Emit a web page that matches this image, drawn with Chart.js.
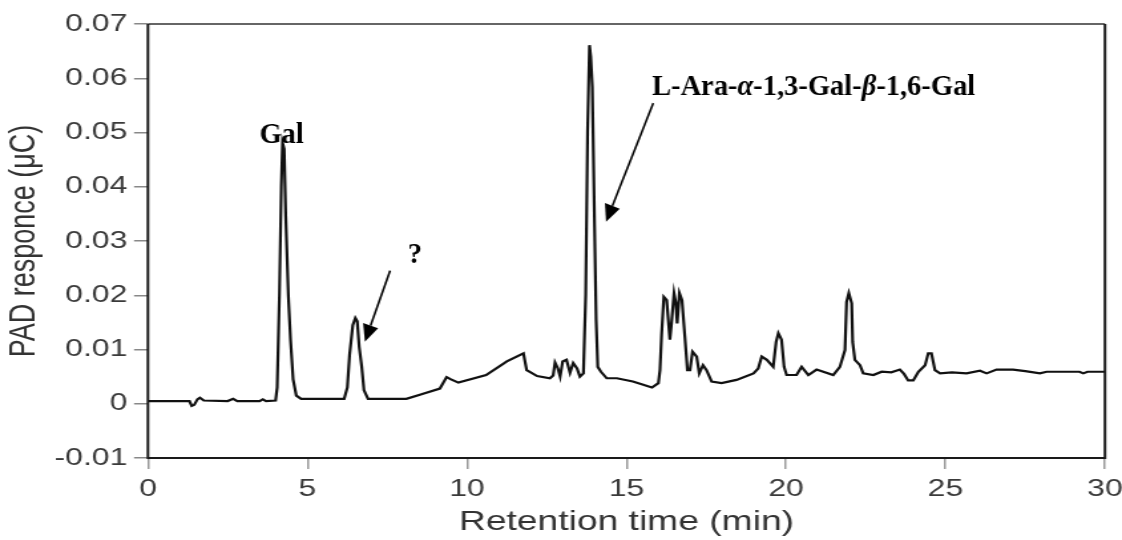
<!DOCTYPE html>
<html>
<head>
<meta charset="utf-8">
<script src="https://cdn.jsdelivr.net/npm/chart.js@4/dist/chart.umd.min.js"></script>
<style>
  body { margin: 0; background: #fff; }
</style>
</head>
<body>
<!-- the original figure is stretched sideways, so the canvas is drawn narrower and widened by css -->
<canvas id="padChart" width="844" height="540" style="display:block;width:1122px;height:540px"></canvas>
<script>
const retentionTime = [
  0, 1.30, 1.37, 1.45, 1.55, 1.63, 1.75, 2.5, 2.67, 2.8, 3.5, 3.6, 3.7, 4.0,
  4.05, 4.12, 4.18, 4.22, 4.27, 4.32, 4.40, 4.47, 4.55, 4.65, 4.8,
  6.15, 6.25, 6.32, 6.42, 6.5, 6.56, 6.62, 6.7, 6.77, 6.9,
  8.1, 8.6, 9.15, 9.36, 9.5, 9.73, 10.6, 11.25, 11.77, 11.87, 12.2, 12.6,
  12.7, 12.76, 12.85, 12.92, 13.0, 13.12, 13.23, 13.33, 13.45, 13.54, 13.65,
  13.72, 13.78, 13.84, 13.88, 13.93, 14.0, 14.05, 14.1, 14.2, 14.38, 14.7,
  15.2, 15.8, 16.0, 16.05, 16.1, 16.17, 16.26, 16.36, 16.42, 16.49, 16.55,
  16.59, 16.66, 16.74, 16.83, 16.91, 16.99, 17.07, 17.2, 17.28, 17.4, 17.51,
  17.67, 17.98, 18.45, 18.98, 19.13, 19.24, 19.4, 19.6, 19.69, 19.76, 19.86,
  19.94, 20.02, 20.33, 20.49, 20.7, 20.96, 21.48, 21.69, 21.85, 21.9, 21.97,
  22.06, 22.09, 22.16, 22.32, 22.42, 22.74, 23.0, 23.3, 23.57, 23.7, 23.83,
  23.99, 24.15, 24.36, 24.46, 24.56, 24.67, 24.83, 25.2, 25.66, 26.08, 26.29,
  26.6, 27.12, 27.5, 27.96, 28.17, 29.2, 29.32, 29.45, 30
];
const padResponse = [
  0.0005, 0.0005, -0.0004, -0.0002, 0.0008, 0.0011, 0.0006, 0.0005, 0.0009, 0.0005, 0.0005, 0.0008, 0.0005, 0.0006,
  0.003, 0.02, 0.04, 0.0481, 0.047, 0.0345, 0.02, 0.0117, 0.0045, 0.0015, 0.0009,
  0.0009, 0.003, 0.009, 0.0145, 0.0158, 0.0152, 0.0105, 0.0068, 0.0025, 0.0009,
  0.0009, 0.0018, 0.0028, 0.0049, 0.0045, 0.0039, 0.0053, 0.0078, 0.0093, 0.0062, 0.0051, 0.0047,
  0.0052, 0.0076, 0.0065, 0.005, 0.0078, 0.0081, 0.0057, 0.0075, 0.0065, 0.005, 0.0056,
  0.02, 0.05, 0.0661, 0.064, 0.0584, 0.0326, 0.0154, 0.0068, 0.0059, 0.0047, 0.0047,
  0.0041, 0.003, 0.0038, 0.0062, 0.0127, 0.0197, 0.0191, 0.0118, 0.0154, 0.0204, 0.0185,
  0.0148, 0.0204, 0.0191, 0.0124, 0.0062, 0.0062, 0.0096, 0.0087, 0.0056, 0.0071, 0.0062,
  0.0041, 0.0038, 0.0044, 0.0056, 0.0065, 0.0087, 0.0081, 0.0068, 0.0114, 0.013, 0.0118,
  0.0068, 0.0053, 0.0053, 0.0068, 0.0053, 0.0063, 0.0053, 0.0068, 0.0099, 0.0188, 0.0204,
  0.0185, 0.0114, 0.0081, 0.0071, 0.0056, 0.0053, 0.0059, 0.0058, 0.0063, 0.0055, 0.0043,
  0.0043, 0.0059, 0.0071, 0.0093, 0.0093, 0.0062, 0.0056, 0.0058, 0.0056, 0.0061, 0.0056,
  0.0063, 0.0063, 0.006, 0.0056, 0.0059, 0.0059, 0.0056, 0.0059, 0.0059
];

// peak names, placed in data units
const peakNames = [
  { parts: [["Gal", false]], x: 4.19, y: 0.0481, align: "center" },
  { parts: [["?", false]], x: 8.37, y: 0.0259, align: "center" },
  { parts: [["L-Ara-", false], ["\u03b1", true], ["-1,3-Gal-", false], ["\u03b2", true], ["-1,6-Gal", false]],
    x: 15.8, y: 0.0569, align: "left" }
];
const arrowFrom = [[7.59, 0.02453], [15.84, 0.0554]];
const arrowTo = [[6.80, 0.01144], [14.36, 0.03356]];

const STRETCH = 1122 / 844;

const annotations = {
    id: "annotations",
    afterDraw(chart) {
        const ctx = chart.ctx;
        const xs = chart.scales.x, ys = chart.scales.y;
        const a = chart.chartArea;

        // frame
        ctx.save();
        ctx.lineWidth = 2;
        ctx.strokeStyle = "#666";
        ctx.beginPath();
        ctx.moveTo(a.left, a.top);
        ctx.lineTo(a.right, a.top);
        ctx.stroke();
        ctx.strokeStyle = "#1a1a1a";
        ctx.beginPath();
        ctx.moveTo(a.right, a.top);
        ctx.lineTo(a.right, a.bottom);
        ctx.lineTo(a.left, a.bottom);
        ctx.lineTo(a.left, a.top);
        ctx.stroke();
        ctx.restore();

        // labels and arrows are not stretched in the original
        ctx.save();
        ctx.scale(1 / STRETCH, 1);
        const px = v => xs.getPixelForValue(v) * STRETCH;
        const py = v => ys.getPixelForValue(v);

        ctx.fillStyle = "#000";
        ctx.textBaseline = "alphabetic";
        peakNames.forEach(lbl => {
            const fonts = lbl.parts.map(p => (p[1] ? "italic bold 28.5px 'Liberation Serif'" : "bold 28.5px 'Liberation Serif'"));
            const widths = lbl.parts.map((p, i) => { ctx.font = fonts[i]; return ctx.measureText(p[0]).width; });
            const total = widths.reduce((s, w) => s + w, 0);
            let x = px(lbl.x) - (lbl.align === "center" ? total / 2 : 0);
            lbl.parts.forEach((p, i) => {
                ctx.font = fonts[i];
                ctx.textAlign = "left";
                ctx.fillText(p[0], x, py(lbl.y));
                x += widths[i];
            });
        });

        ctx.strokeStyle = "#000";
        ctx.lineWidth = 2;
        arrowFrom.forEach((f, i) => {
            const x1 = px(f[0]), y1 = py(f[1]);
            const x2 = px(arrowTo[i][0]), y2 = py(arrowTo[i][1]);
            const ang = Math.atan2(y2 - y1, x2 - x1);
            const len = 17, half = 8;
            const bx = x2 - len * Math.cos(ang), by = y2 - len * Math.sin(ang);
            ctx.beginPath();
            ctx.moveTo(x1, y1);
            ctx.lineTo(bx, by);
            ctx.stroke();
            ctx.beginPath();
            ctx.moveTo(x2, y2);
            ctx.lineTo(bx + half * Math.sin(ang), by - half * Math.cos(ang));
            ctx.lineTo(bx - half * Math.sin(ang), by + half * Math.cos(ang));
            ctx.closePath();
            ctx.fill();
        });
        ctx.restore();
    }
};

const ctx = document.getElementById("padChart").getContext("2d");

new Chart(ctx, {
    type: "line",
    data: {
        datasets: [{
            data: retentionTime.map((t, i) => ({ x: t, y: padResponse[i] })),
            borderColor: "#111",
            borderWidth: 2.2,
            pointRadius: 0,
            tension: 0,
            fill: false
        }]
    },
    options: {
        responsive: false,
        devicePixelRatio: 1,
        animation: false,
        layout: { padding: { left: 0, right: 12.8, top: 24, bottom: 0 } },
        plugins: {
            legend: { display: false },
            tooltip: { enabled: false }
        },
        scales: {
            x: {
                type: "linear",
                min: 0,
                max: 30,
                border: { display: false },
                grid: { drawOnChartArea: false, tickLength: 11, color: "#999", lineWidth: 1.5 },
                ticks: {
                    stepSize: 5,
                    padding: 6,
                    color: "#3a3a3a",
                    font: { family: "'Liberation Sans', Arial, sans-serif", size: 24 },
                    maxRotation: 0
                },
                title: {
                    display: true,
                    text: "Retention time (min)",
                    color: "#333",
                    font: { family: "'Liberation Sans', Arial, sans-serif", size: 28 },
                    padding: { top: 0, bottom: 1 }
                },
                afterFit: scale => {
                    scale.height = 82;
                    scale.paddingRight = 10;
                }
            },
            y: {
                min: -0.01,
                max: 0.07,
                border: { display: false },
                grid: { drawOnChartArea: false, tickLength: 10.5, color: "#888", lineWidth: 1.5 },
                ticks: {
                    stepSize: 0.01,
                    padding: 5,
                    color: "#3a3a3a",
                    font: { family: "'Liberation Sans', Arial, sans-serif", size: 24 },
                    callback: v => (Math.abs(v) < 1e-9 ? "0" : v.toFixed(2))
                },
                title: {
                    display: true,
                    text: "PAD responce (\u03bcC)",
                    color: "#333",
                    font: { family: "'Liberation Sans', Arial, sans-serif", size: 27 },
                    padding: { top: 2, bottom: 0 }
                },
                afterFit: scale => { scale.width = 111.3; }
            }
        }
    },
    plugins: [annotations]
});
</script>
</body>
</html>
